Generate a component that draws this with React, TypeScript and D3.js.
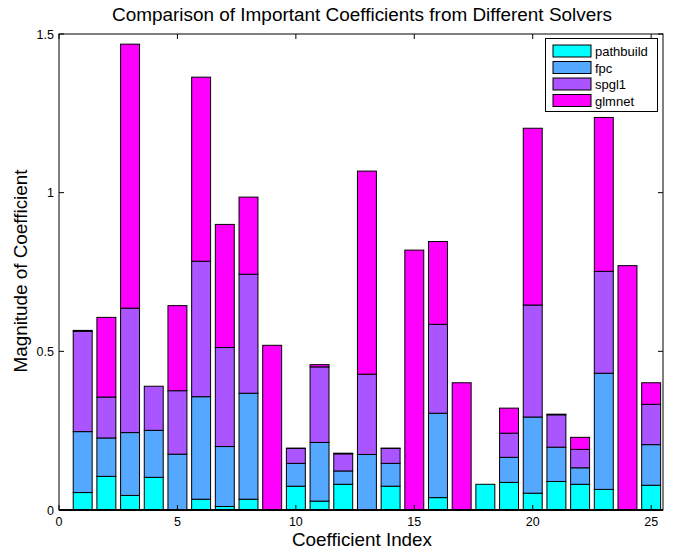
import React from "react";
import * as d3 from "d3";

const indices = d3.range(1, 26);
const pathbuild = [0.055, 0.106, 0.046, 0.103, 0, 0.034, 0.011, 0.034, 0, 0.075, 0.028, 0.081, 0, 0.075, 0, 0.039, 0, 0.081, 0.087, 0.053, 0.090, 0.081, 0.065, 0, 0.078];
const fpc = [0.192, 0.121, 0.198, 0.148, 0.176, 0.323, 0.189, 0.334, 0, 0.072, 0.185, 0.042, 0.175, 0.072, 0, 0.266, 0, 0, 0.079, 0.240, 0.108, 0.052, 0.366, 0, 0.128];
const spgl1 = [0.316, 0.129, 0.392, 0.139, 0.200, 0.427, 0.312, 0.375, 0, 0.047, 0.238, 0.054, 0.253, 0.047, 0, 0.280, 0, 0, 0.076, 0.353, 0.102, 0.058, 0.321, 0, 0.127];
const glmnet = [0.003, 0.251, 0.832, 0, 0.268, 0.580, 0.388, 0.243, 0.519, 0.001, 0.007, 0.002, 0.640, 0.001, 0.819, 0.261, 0.401, 0, 0.079, 0.557, 0.002, 0.038, 0.485, 0.770, 0.068];
const seriesNames = ["pathbuild", "fpc", "spgl1", "glmnet"];
const seriesColors = ["#00FFFF", "#55A8FF", "#AA55FF", "#FF00FF"];
const xTicks = [0, 5, 10, 15, 20, 25];
const yTicks = [0, 0.5, 1, 1.5];

export default function App() {
  const W = 673, H = 550;
  const L = 59, R = 663, T = 34, B = 510;
  const x = d3.scaleLinear().domain([0, 25.5]).range([L, R]);
  const y = d3.scaleLinear().domain([0, 1.5]).range([B, T]);
  const rows = indices.map((idx, i) => ({
    idx,
    pathbuild: pathbuild[i],
    fpc: fpc[i],
    spgl1: spgl1[i],
    glmnet: glmnet[i],
  }));
  const stacked = d3.stack<any>().keys(seriesNames)(rows);
  const bw = x(0.8) - x(0);
  const font = "Liberation Sans, Arial, sans-serif";
  const tl = 5;

  return (
    <svg width={W} height={H} style={{ position: "absolute", left: 0, top: 0, background: "#fff" }} fontFamily={font}>
      <rect x={0} y={0} width={W} height={H} fill="#fff" />
      {stacked.map((s, si) => (
        <g key={s.key}>
          {s.map((d, i) => (
            <rect
              key={i}
              x={x(rows[i].idx) - bw / 2}
              y={y(d[1])}
              width={bw}
              height={Math.max(0, y(d[0]) - y(d[1]))}
              fill={seriesColors[si]}
              stroke="#000"
              strokeWidth={1}
            />
          ))}
        </g>
      ))}
      <rect x={L} y={T} width={R - L} height={B - T} fill="none" stroke="#000" strokeWidth={1} />
      <line x1={L} x2={R} y1={B} y2={B} stroke="#000" strokeWidth={2} />
      {xTicks.map((t) => (
        <g key={"x" + t}>
          <line x1={x(t)} x2={x(t)} y1={B} y2={B - tl} stroke="#000" />
          <line x1={x(t)} x2={x(t)} y1={T} y2={T + tl} stroke="#000" />
          <text x={x(t)} y={B + 16} fontSize={12.5} textAnchor="middle">{t}</text>
        </g>
      ))}
      {yTicks.map((t) => (
        <g key={"y" + t}>
          <line x1={L} x2={L + tl} y1={y(t)} y2={y(t)} stroke="#000" />
          <line x1={R} x2={R - tl} y1={y(t)} y2={y(t)} stroke="#000" />
          <text x={L - 5} y={y(t) + 4.5} fontSize={12.5} textAnchor="end">{t}</text>
        </g>
      ))}
      <text x={362} y={21} fontSize={17.5} textAnchor="middle" textLength={500} lengthAdjust="spacingAndGlyphs">Comparison of Important Coefficients from Different Solvers</text>
      <text x={362} y={546} fontSize={18.5} textAnchor="middle" textLength={140} lengthAdjust="spacingAndGlyphs">Coefficient Index</text>
      <text transform={`translate(27,271) rotate(-90)`} fontSize={18.5} textAnchor="middle" textLength={203} lengthAdjust="spacingAndGlyphs">Magnitude of Coefficient</text>
      <g>
        <rect x={545.5} y={38.5} width={112} height={73} fill="#fff" stroke="#000" />
        {seriesNames.map((n, i) => (
          <g key={n}>
            <rect x={553} y={45 + i * 16.5} width={38} height={12} fill={seriesColors[i]} stroke="#000" />
            <text x={595} y={56 + i * 16.5} fontSize={13}>{n}</text>
          </g>
        ))}
      </g>
    </svg>
  );
}
